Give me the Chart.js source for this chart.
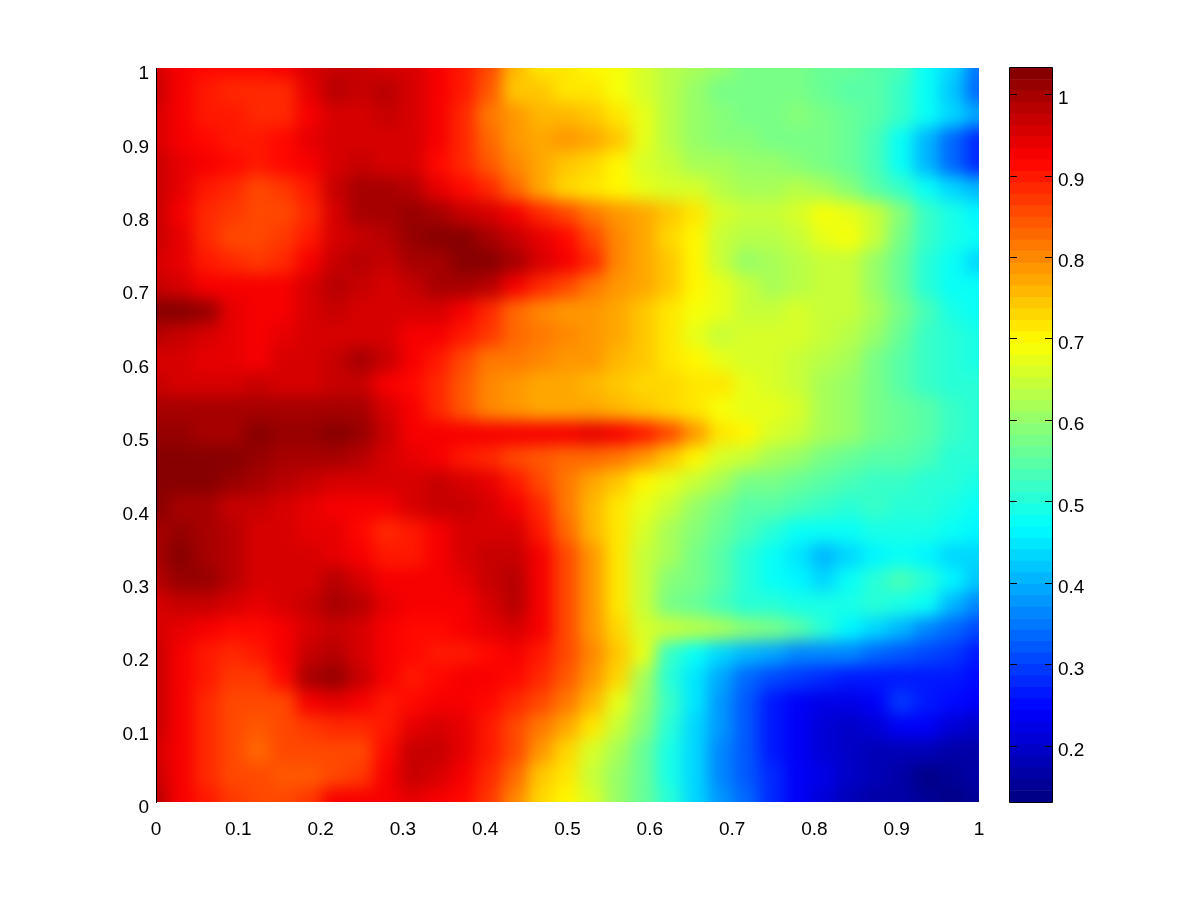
<!DOCTYPE html>
<html>
<head>
<meta charset="utf-8">
<title>Heat map</title>
<script src="https://cdn.jsdelivr.net/npm/chart.js@4"></script>
<style>
  html, body { margin: 0; padding: 0; background: #fff; }
  #wrap { position: relative; width: 1200px; height: 901px; overflow: hidden; }
  canvas { position: absolute; top: 0; }
  #heat { left: 0; }
  #bar { left: 990px; }
</style>
</head>
<body>
<div id="wrap">
  <canvas id="heat" width="1200" height="901"></canvas>
  <canvas id="bar" width="210" height="901"></canvas>
</div>
<script>
// values, top row (y=1) first, hundredths, x runs 0..1 in 1/32 steps
const zRows = [
  [96,93,91,91,91,93,96,97,97,96,95,93,90,85,76,72,71,70,69,66,63,62,60,58,57,57,56,56,55,53,47,43,35],
  [97,92,90,89,88,89,94,98,97,98,96,93,90,84,75,74,72,71,69,66,63,60,58,58,57,57,56,55,54,52,47,42,33],
  [96,92,90,90,89,89,93,96,96,97,96,93,88,82,78,76,76,74,71,67,63,60,59,58,58,59,58,56,54,52,48,44,39],
  [96,93,91,90,90,91,94,95,96,95,95,92,88,83,78,77,78,77,74,68,63,60,59,59,58,58,58,56,53,47,40,33,28],
  [97,94,92,91,90,91,92,96,97,96,95,91,88,84,80,77,74,73,70,66,64,62,61,60,60,59,58,56,53,47,40,33,28],
  [97,94,90,88,86,87,90,97,100,100,98,94,91,88,83,77,73,71,70,67,66,66,63,62,62,63,62,59,55,52,47,43,41],
  [97,93,89,87,85,86,89,96,99,100,101,100,97,96,92,88,85,82,79,77,75,71,66,64,65,66,69,68,64,59,52,49,46],
  [97,94,89,86,85,87,90,96,97,98,101,102,102,100,97,94,91,86,80,77,73,70,65,63,63,65,68,69,64,58,52,49,47],
  [96,94,90,88,87,89,93,97,98,97,99,100,102,103,100,96,92,89,80,77,74,70,65,60,61,63,65,64,60,56,51,47,43],
  [97,95,93,92,92,93,96,98,97,96,97,100,100,98,93,89,85,81,79,77,74,70,67,64,62,63,64,64,60,56,51,48,47],
  [102,103,101,94,92,93,95,97,96,96,96,96,92,88,83,80,79,78,77,75,72,69,67,65,65,66,65,64,61,57,53,49,47],
  [98,97,96,94,93,94,95,96,96,95,93,93,90,87,83,81,80,79,77,75,71,67,65,66,66,66,65,63,60,56,52,50,49],
  [96,95,94,94,93,95,96,97,99,97,93,90,86,82,81,80,79,78,76,74,71,70,68,66,66,65,63,61,58,55,52,50,49],
  [97,96,96,96,97,96,96,97,97,93,91,88,84,80,78,77,77,76,74,73,73,72,71,67,66,65,62,60,57,55,52,50,50],
  [100,100,99,100,100,99,100,100,99,96,93,89,84,80,78,77,77,77,76,75,73,71,69,68,67,66,62,60,58,56,54,52,50],
  [101,101,100,100,103,101,101,103,101,97,93,93,92,92,93,93,93,94,93,90,85,78,72,70,66,64,62,60,58,56,54,52,51],
  [102,102,102,103,101,100,99,99,98,96,94,92,90,88,86,84,83,83,82,78,75,70,66,64,62,60,58,56,55,54,53,51,50],
  [102,102,102,101,99,98,97,96,95,95,96,97,96,94,90,86,81,77,74,70,67,64,61,58,57,56,54,53,52,52,51,50,49],
  [103,100,99,97,97,96,94,93,92,93,96,97,97,96,93,88,81,76,71,68,64,60,58,55,54,53,52,51,52,51,50,49,48],
  [100,101,100,98,96,96,94,94,91,89,90,93,95,96,95,90,83,76,71,66,62,59,56,53,50,48,47,48,49,49,49,48,46],
  [100,102,100,98,96,95,95,94,92,90,90,92,95,97,97,92,85,78,71,65,61,58,55,51,48,45,41,43,46,47,46,44,43],
  [98,101,101,98,96,95,96,98,96,93,92,93,94,97,98,93,85,78,71,65,59,57,54,51,48,46,44,47,51,53,50,46,42],
  [96,97,97,95,94,95,97,99,98,94,92,92,93,96,98,93,85,78,71,64,58,56,53,51,50,49,49,49,50,49,47,41,37],
  [96,94,92,91,91,93,95,97,95,93,91,91,92,94,96,92,86,79,73,66,65,63,61,59,57,55,50,46,44,41,36,33,30],
  [97,93,90,88,90,93,97,98,96,93,91,90,90,91,92,90,85,80,74,68,52,47,43,41,39,37,37,36,34,32,30,29,27],
  [97,93,90,87,87,91,100,101,97,92,90,91,92,92,91,88,84,79,73,62,50,45,39,34,31,29,28,27,27,27,27,26,25],
  [97,92,88,85,85,86,92,94,93,90,91,92,93,91,88,85,81,76,67,60,52,45,38,32,27,24,22,22,24,29,27,25,23],
  [97,92,88,85,84,85,87,88,88,90,94,95,94,90,86,82,77,71,64,59,51,44,38,32,27,23,21,20,21,23,23,21,20],
  [96,92,88,85,83,85,85,85,86,91,97,97,94,90,85,79,73,66,61,56,49,43,37,32,27,23,21,20,18,18,18,17,17],
  [97,92,89,86,85,84,84,86,87,92,97,96,93,89,83,75,71,65,60,56,49,43,37,32,28,24,22,20,18,16,14,15,16],
  [98,93,90,87,85,85,87,92,92,92,94,93,91,87,80,73,70,66,60,56,50,44,38,33,28,24,21,18,16,16,15,14,15]
];
const xTicks = [0, 0.1, 0.2, 0.3, 0.4, 0.5, 0.6, 0.7, 0.8, 0.9, 1];
const yTicks = [0, 0.1, 0.2, 0.3, 0.4, 0.5, 0.6, 0.7, 0.8, 0.9, 1];
const barTicks = [0.2, 0.3, 0.4, 0.5, 0.6, 0.7, 0.8, 0.9, 1];
const zMin = 0.131;
const zMax = 1.032;
const levels = 64;

const font = { family: '"Liberation Sans", Arial, sans-serif', size: 19 };

function clamp01(v) { return Math.max(0, Math.min(1, v)); }

// matlab jet
function jet(t) {
  const r = clamp01(Math.min(4 * t - 1.5, -4 * t + 4.5));
  const g = clamp01(Math.min(4 * t - 0.5, -4 * t + 3.5));
  const b = clamp01(Math.min(4 * t + 0.5, -4 * t + 2.5));
  return `rgb(${Math.round(r * 255)},${Math.round(g * 255)},${Math.round(b * 255)})`;
}
function colorOf(v) {
  const i = Math.min(levels - 1, Math.floor((v - zMin) / (zMax - zMin) * levels));
  return jet((Math.max(i, 0) + 0.5) / levels);
}

const cells = [];
const cellColors = [];
zRows.forEach((row, j) => {
  row.forEach((z, i) => {
    cells.push({ x: i / (row.length - 1), y: 1 - j / (zRows.length - 1), z: z / 100 });
    cellColors.push(colorOf(z / 100));
  });
});

// softens the cell edges, the original is an interpolated surface.
// cells spill over the plot by m px so the blur has something to read at the edges,
// the spill gets wiped afterwards and axes draw on top (z: 1)
const smooth = {
  id: 'smooth',
  afterDatasetsDraw(chart) {
    const a = chart.chartArea;
    const ctx = chart.ctx;
    const m = 14;
    const w = a.right - a.left, h = a.bottom - a.top;
    ctx.save();
    ctx.beginPath();
    ctx.rect(a.left, a.top, w, h);
    ctx.clip();
    ctx.filter = 'blur(8px)';
    ctx.drawImage(chart.canvas, a.left - m, a.top - m, w + 2 * m, h + 2 * m, a.left - m, a.top - m, w + 2 * m, h + 2 * m);
    ctx.restore();
    ctx.clearRect(a.left - m - 1, a.top - m - 1, w + 2 * m + 2, m + 1);
    ctx.clearRect(a.left - m - 1, a.bottom, w + 2 * m + 2, m + 1);
    ctx.clearRect(a.left - m - 1, a.top, m + 1, h);
    ctx.clearRect(a.right, a.top, m + 1, h);
  }
};

new Chart(document.getElementById('heat').getContext('2d'), {
  type: 'scatter',
  data: {
    datasets: [{
      data: cells,
      pointStyle: 'rect',
      pointRadius: 20,
      pointBorderWidth: 0,
      pointBackgroundColor: cellColors,
      clip: false
    }]
  },
  plugins: [smooth],
  options: {
    responsive: false,
    animation: false,
    events: [],
    layout: { padding: { top: 68, right: 221, left: 0, bottom: 0 } },
    plugins: { legend: { display: false }, tooltip: { enabled: false } },
    scales: {
      x: {
        type: 'linear', min: 0, max: 1,
        afterBuildTicks: s => { s.ticks = xTicks.map(v => ({ value: v })); },
        afterFit: s => { s.height = 99; },
        ticks: { font, color: '#000', padding: 16, z: 1, maxRotation: 0, autoSkip: false, callback: v => String(v) },
        grid: { display: false, drawTicks: false },
        border: { display: false }
      },
      y: {
        type: 'linear', min: 0, max: 1,
        afterBuildTicks: s => { s.ticks = yTicks.map(v => ({ value: v })); },
        afterFit: s => { s.width = 156; },
        ticks: { font, color: '#000', padding: 7, z: 1, labelOffset: 6, autoSkip: false, callback: v => String(v) },
        grid: { drawOnChartArea: false, drawTicks: false },
        border: { display: true, color: '#000', width: 1, z: 1 }
      }
    }
  }
});

// colorbar, one floating bar per colour level
const barSets = [];
for (let i = 0; i < levels; i++) {
  const lo = zMin + (zMax - zMin) * i / levels;
  const hi = zMin + (zMax - zMin) * (i + 1) / levels;
  barSets.push({ data: [[lo, hi]], backgroundColor: jet((i + 0.5) / levels), borderWidth: 0 });
}

const barFrame = {
  id: 'barFrame',
  afterDatasetsDraw(chart) {
    const a = chart.chartArea;
    const ctx = chart.ctx;
    const s = chart.scales.y;
    ctx.save();
    ctx.strokeStyle = '#000';
    ctx.lineWidth = 1;
    ctx.beginPath();
    ctx.rect(a.left - 0.5, a.top - 0.5, a.right - a.left + 1, a.bottom - a.top + 1);
    barTicks.forEach(v => {
      const y = Math.round(s.getPixelForValue(v)) + 0.5;
      ctx.moveTo(a.left, y); ctx.lineTo(a.left + 7, y);
      ctx.moveTo(a.right - 7, y); ctx.lineTo(a.right, y);
    });
    ctx.stroke();
    ctx.restore();
  }
};

new Chart(document.getElementById('bar').getContext('2d'), {
  type: 'bar',
  data: { labels: ['z'], datasets: barSets },
  plugins: [barFrame],
  options: {
    responsive: false,
    animation: false,
    events: [],
    layout: { padding: { top: 68, left: 20, right: 0, bottom: 0 } },
    datasets: { bar: { grouped: false, categoryPercentage: 1, barPercentage: 1 } },
    plugins: { legend: { display: false }, tooltip: { enabled: false } },
    scales: {
      x: {
        display: true,
        afterFit: s => { s.height = 99; },
        ticks: { display: false },
        grid: { display: false },
        border: { display: false }
      },
      y: {
        type: 'linear', position: 'right', min: zMin, max: zMax,
        afterBuildTicks: s => { s.ticks = barTicks.map(v => ({ value: v })); },
        afterFit: s => { s.width = 148; },
        ticks: { font, color: '#000', padding: 6, labelOffset: 5, autoSkip: false, callback: v => String(v) },
        grid: { display: false, drawTicks: false },
        border: { display: false }
      }
    }
  }
});
</script>
</body>
</html>
